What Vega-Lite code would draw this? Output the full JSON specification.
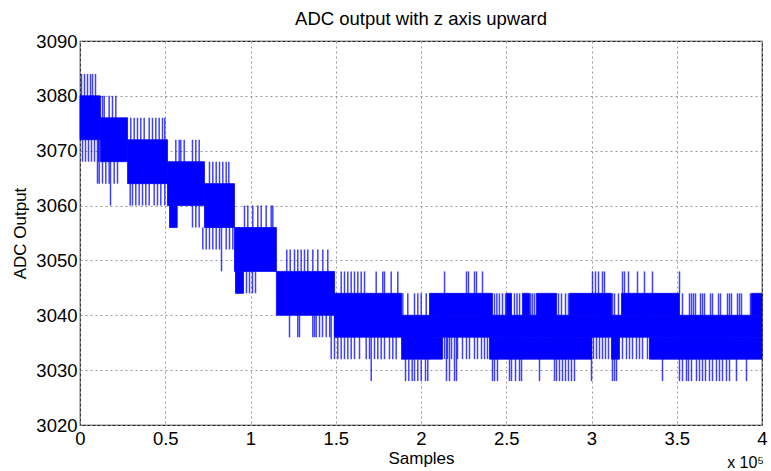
{
  "$schema": "https://vega.github.io/schema/vega-lite/v6.json",
  "width": 682,
  "height": 384,
  "autosize": {"type": "none"},
  "padding": {"left": 80, "top": 41, "right": 9, "bottom": 46},
  "background": "#ffffff",
  "title": {"text": "ADC output with z axis upward", "fontSize": 18.5, "fontWeight": "normal", "font": "Liberation Sans", "color": "#000", "anchor": "middle", "offset": 4},
  "config": {
    "view": {"stroke": "#222", "strokeWidth": 1.2},
    "axis": {"labelFont": "Liberation Sans", "titleFont": "Liberation Sans", "labelColor": "#000", "titleColor": "#000", "labelFontSize": 18.5, "titleFontSize": 17, "titleFontWeight": "normal", "grid": true, "gridColor": "#999", "gridDash": [2, 3], "gridOpacity": 1, "domain": false, "ticks": false, "labelFlush": false}
  },
  "datasets": {
    "blocks": [
      {"x": 0, "x2": 12000, "lo": 3072, "hi": 3080},
      {"x": 12000, "x2": 27900, "lo": 3068, "hi": 3076},
      {"x": 27900, "x2": 51300, "lo": 3064, "hi": 3072},
      {"x": 51300, "x2": 73000, "lo": 3060, "hi": 3068},
      {"x": 52500, "x2": 57000, "lo": 3056, "hi": 3060},
      {"x": 73000, "x2": 90600, "lo": 3056, "hi": 3064},
      {"x": 90600, "x2": 115200, "lo": 3048, "hi": 3056},
      {"x": 91200, "x2": 95900, "lo": 3044, "hi": 3048},
      {"x": 115200, "x2": 149300, "lo": 3040, "hi": 3048},
      {"x": 149300, "x2": 188600, "lo": 3036, "hi": 3044},
      {"x": 188600, "x2": 205000, "lo": 3032, "hi": 3040},
      {"x": 205000, "x2": 400000, "lo": 3036, "hi": 3040},
      {"x": 205000, "x2": 241900, "lo": 3040, "hi": 3044},
      {"x": 250100, "x2": 253100, "lo": 3040, "hi": 3044},
      {"x": 259500, "x2": 263600, "lo": 3040, "hi": 3044},
      {"x": 267700, "x2": 279500, "lo": 3040, "hi": 3044},
      {"x": 287100, "x2": 311700, "lo": 3040, "hi": 3044},
      {"x": 317600, "x2": 351600, "lo": 3040, "hi": 3044},
      {"x": 393800, "x2": 400000, "lo": 3040, "hi": 3044},
      {"x": 205000, "x2": 212600, "lo": 3032, "hi": 3036},
      {"x": 240200, "x2": 300000, "lo": 3032, "hi": 3036},
      {"x": 311700, "x2": 316400, "lo": 3032, "hi": 3036},
      {"x": 334000, "x2": 400000, "lo": 3032, "hi": 3036}
    ],
    "spikes": [
      {"x": 880, "lo": 3076, "hi": 3084}, {"x": 2640, "lo": 3076, "hi": 3084}, {"x": 4400, "lo": 3076, "hi": 3084}, {"x": 6160, "lo": 3076, "hi": 3084}, {"x": 7330, "lo": 3076, "hi": 3084}, {"x": 9090, "lo": 3076, "hi": 3084},
      {"x": 1470, "lo": 3068, "hi": 3072}, {"x": 3230, "lo": 3068, "hi": 3072}, {"x": 4990, "lo": 3068, "hi": 3072}, {"x": 6740, "lo": 3068, "hi": 3072}, {"x": 8500, "lo": 3068, "hi": 3072}, {"x": 10850, "lo": 3068, "hi": 3072},
      {"x": 13200, "lo": 3076, "hi": 3080}, {"x": 14200, "lo": 3076, "hi": 3080}, {"x": 17100, "lo": 3076, "hi": 3080}, {"x": 19060, "lo": 3076, "hi": 3080}, {"x": 21000, "lo": 3076, "hi": 3080},
      {"x": 10260, "lo": 3064, "hi": 3072}, {"x": 11260, "lo": 3064, "hi": 3072}, {"x": 13200, "lo": 3064, "hi": 3068}, {"x": 15130, "lo": 3064, "hi": 3068}, {"x": 17100, "lo": 3064, "hi": 3068}, {"x": 20060, "lo": 3064, "hi": 3068}, {"x": 21990, "lo": 3064, "hi": 3068},
      {"x": 17890, "lo": 3060, "hi": 3068},
      {"x": 29794, "lo": 3072, "hi": 3076}, {"x": 31788, "lo": 3072, "hi": 3076}, {"x": 33724, "lo": 3072, "hi": 3076}, {"x": 35659, "lo": 3072, "hi": 3076}, {"x": 37653, "lo": 3072, "hi": 3076}, {"x": 40586, "lo": 3072, "hi": 3076}, {"x": 42521, "lo": 3072, "hi": 3076}, {"x": 44457, "lo": 3072, "hi": 3076}, {"x": 46451, "lo": 3072, "hi": 3076}, {"x": 48386, "lo": 3072, "hi": 3076}, {"x": 49735, "lo": 3072, "hi": 3076},
      {"x": 29442, "lo": 3060, "hi": 3064}, {"x": 30791, "lo": 3060, "hi": 3064}, {"x": 32727, "lo": 3060, "hi": 3064}, {"x": 34720, "lo": 3060, "hi": 3064}, {"x": 36656, "lo": 3060, "hi": 3064}, {"x": 38592, "lo": 3060, "hi": 3064}, {"x": 40586, "lo": 3060, "hi": 3064}, {"x": 43518, "lo": 3060, "hi": 3064}, {"x": 45454, "lo": 3060, "hi": 3064}, {"x": 47389, "lo": 3060, "hi": 3064}, {"x": 49735, "lo": 3060, "hi": 3064},
      {"x": 56187, "lo": 3068, "hi": 3072}, {"x": 58181, "lo": 3068, "hi": 3072}, {"x": 59120, "lo": 3068, "hi": 3072}, {"x": 61113, "lo": 3068, "hi": 3072}, {"x": 65981, "lo": 3068, "hi": 3072}, {"x": 67917, "lo": 3068, "hi": 3072}, {"x": 69910, "lo": 3068, "hi": 3072},
      {"x": 65981, "lo": 3056, "hi": 3060}, {"x": 67917, "lo": 3056, "hi": 3060}, {"x": 69910, "lo": 3056, "hi": 3060},
      {"x": 75952, "lo": 3064, "hi": 3068}, {"x": 77888, "lo": 3064, "hi": 3068}, {"x": 79881, "lo": 3064, "hi": 3068}, {"x": 81817, "lo": 3064, "hi": 3068}, {"x": 83752, "lo": 3064, "hi": 3068}, {"x": 85746, "lo": 3064, "hi": 3068}, {"x": 87271, "lo": 3064, "hi": 3068},
      {"x": 72024, "lo": 3052, "hi": 3056}, {"x": 74017, "lo": 3052, "hi": 3056}, {"x": 75952, "lo": 3052, "hi": 3056}, {"x": 77888, "lo": 3052, "hi": 3056}, {"x": 79881, "lo": 3052, "hi": 3056}, {"x": 81817, "lo": 3052, "hi": 3056}, {"x": 85746, "lo": 3052, "hi": 3056}, {"x": 87681, "lo": 3052, "hi": 3056}, {"x": 89617, "lo": 3052, "hi": 3056}, {"x": 82990, "lo": 3048, "hi": 3056},
      {"x": 96479, "lo": 3056, "hi": 3060}, {"x": 98414, "lo": 3056, "hi": 3060}, {"x": 101347, "lo": 3056, "hi": 3060}, {"x": 104279, "lo": 3056, "hi": 3060}, {"x": 106273, "lo": 3056, "hi": 3060}, {"x": 109206, "lo": 3056, "hi": 3060}, {"x": 112138, "lo": 3056, "hi": 3060}, {"x": 113077, "lo": 3056, "hi": 3060},
      {"x": 97651, "lo": 3044, "hi": 3048}, {"x": 99411, "lo": 3044, "hi": 3048}, {"x": 101171, "lo": 3044, "hi": 3048}, {"x": 102930, "lo": 3044, "hi": 3048},
      {"x": 121286, "lo": 3048, "hi": 3052}, {"x": 123280, "lo": 3048, "hi": 3052}, {"x": 125804, "lo": 3048, "hi": 3052}, {"x": 127739, "lo": 3048, "hi": 3052}, {"x": 129733, "lo": 3048, "hi": 3052}, {"x": 131669, "lo": 3048, "hi": 3052}, {"x": 133604, "lo": 3048, "hi": 3052}, {"x": 136537, "lo": 3048, "hi": 3052}, {"x": 139470, "lo": 3048, "hi": 3052}, {"x": 142402, "lo": 3048, "hi": 3052}, {"x": 145335, "lo": 3048, "hi": 3052},
      {"x": 122872, "lo": 3036, "hi": 3040}, {"x": 127739, "lo": 3036, "hi": 3040}, {"x": 128735, "lo": 3036, "hi": 3040}, {"x": 136537, "lo": 3036, "hi": 3040}, {"x": 137534, "lo": 3036, "hi": 3040}, {"x": 138531, "lo": 3036, "hi": 3040}, {"x": 140467, "lo": 3036, "hi": 3040}, {"x": 142227, "lo": 3036, "hi": 3040}, {"x": 144402, "lo": 3036, "hi": 3040}, {"x": 146457, "lo": 3036, "hi": 3040},
      {"x": 153194, "lo": 3044, "hi": 3048}, {"x": 155129, "lo": 3044, "hi": 3048}, {"x": 157065, "lo": 3044, "hi": 3048}, {"x": 159058, "lo": 3044, "hi": 3048}, {"x": 160994, "lo": 3044, "hi": 3048}, {"x": 162929, "lo": 3044, "hi": 3048}, {"x": 164923, "lo": 3044, "hi": 3048}, {"x": 166859, "lo": 3044, "hi": 3048}, {"x": 173721, "lo": 3044, "hi": 3048}, {"x": 177592, "lo": 3044, "hi": 3048}, {"x": 178589, "lo": 3044, "hi": 3048}, {"x": 182518, "lo": 3044, "hi": 3048}, {"x": 186389, "lo": 3044, "hi": 3048},
      {"x": 147328, "lo": 3032, "hi": 3040}, {"x": 149264, "lo": 3032, "hi": 3040}, {"x": 151200, "lo": 3032, "hi": 3036}, {"x": 153194, "lo": 3032, "hi": 3036}, {"x": 155129, "lo": 3032, "hi": 3036}, {"x": 157065, "lo": 3032, "hi": 3036}, {"x": 159058, "lo": 3032, "hi": 3036}, {"x": 160994, "lo": 3032, "hi": 3036}, {"x": 163927, "lo": 3032, "hi": 3036}, {"x": 167856, "lo": 3032, "hi": 3036}, {"x": 169792, "lo": 3032, "hi": 3036}, {"x": 172724, "lo": 3032, "hi": 3036}, {"x": 174660, "lo": 3032, "hi": 3036}, {"x": 176653, "lo": 3032, "hi": 3036}, {"x": 178589, "lo": 3032, "hi": 3036}, {"x": 181522, "lo": 3032, "hi": 3036}, {"x": 183457, "lo": 3032, "hi": 3036}, {"x": 185451, "lo": 3032, "hi": 3036}, {"x": 170800, "lo": 3028, "hi": 3036},
      {"x": 189322, "lo": 3040, "hi": 3044}, {"x": 192255, "lo": 3040, "hi": 3044}, {"x": 196184, "lo": 3040, "hi": 3044}, {"x": 198120, "lo": 3040, "hi": 3044}, {"x": 200113, "lo": 3040, "hi": 3044}, {"x": 203046, "lo": 3040, "hi": 3044},
      {"x": 190906, "lo": 3028, "hi": 3032}, {"x": 192842, "lo": 3028, "hi": 3032}, {"x": 194835, "lo": 3028, "hi": 3032}, {"x": 196184, "lo": 3028, "hi": 3032}, {"x": 198120, "lo": 3028, "hi": 3032}, {"x": 200113, "lo": 3028, "hi": 3032}, {"x": 202636, "lo": 3028, "hi": 3032}, {"x": 203985, "lo": 3028, "hi": 3032},
      {"x": 243100, "lo": 3040, "hi": 3044}, {"x": 244500, "lo": 3040, "hi": 3044}, {"x": 246000, "lo": 3040, "hi": 3044}, {"x": 247800, "lo": 3040, "hi": 3044}, {"x": 249600, "lo": 3040, "hi": 3044}, {"x": 254800, "lo": 3040, "hi": 3044}, {"x": 256300, "lo": 3040, "hi": 3044}, {"x": 257800, "lo": 3040, "hi": 3044}, {"x": 264300, "lo": 3040, "hi": 3044}, {"x": 265400, "lo": 3040, "hi": 3044}, {"x": 266600, "lo": 3040, "hi": 3044}, {"x": 280640, "lo": 3040, "hi": 3044}, {"x": 282400, "lo": 3040, "hi": 3044}, {"x": 284746, "lo": 3040, "hi": 3044}, {"x": 286502, "lo": 3040, "hi": 3044}, {"x": 312311, "lo": 3040, "hi": 3044}, {"x": 313484, "lo": 3040, "hi": 3044}, {"x": 315830, "lo": 3040, "hi": 3044},
      {"x": 353366, "lo": 3040, "hi": 3044}, {"x": 357472, "lo": 3040, "hi": 3044}, {"x": 358645, "lo": 3040, "hi": 3044}, {"x": 359818, "lo": 3040, "hi": 3044}, {"x": 360991, "lo": 3040, "hi": 3044}, {"x": 363923, "lo": 3040, "hi": 3044}, {"x": 365096, "lo": 3040, "hi": 3044}, {"x": 366269, "lo": 3040, "hi": 3044}, {"x": 369788, "lo": 3040, "hi": 3044}, {"x": 370961, "lo": 3040, "hi": 3044}, {"x": 374480, "lo": 3040, "hi": 3044}, {"x": 375653, "lo": 3040, "hi": 3044}, {"x": 379759, "lo": 3040, "hi": 3044}, {"x": 380932, "lo": 3040, "hi": 3044}, {"x": 382105, "lo": 3040, "hi": 3044}, {"x": 385624, "lo": 3040, "hi": 3044}, {"x": 386797, "lo": 3040, "hi": 3044}, {"x": 387970, "lo": 3040, "hi": 3044}, {"x": 393248, "lo": 3040, "hi": 3044},
      {"x": 213779, "lo": 3032, "hi": 3036}, {"x": 215539, "lo": 3032, "hi": 3036}, {"x": 217885, "lo": 3032, "hi": 3036}, {"x": 221404, "lo": 3032, "hi": 3036}, {"x": 224336, "lo": 3032, "hi": 3036}, {"x": 226682, "lo": 3032, "hi": 3036}, {"x": 228442, "lo": 3032, "hi": 3036}, {"x": 231374, "lo": 3032, "hi": 3036}, {"x": 233134, "lo": 3032, "hi": 3036}, {"x": 235480, "lo": 3032, "hi": 3036}, {"x": 237239, "lo": 3032, "hi": 3036}, {"x": 238999, "lo": 3032, "hi": 3036},
      {"x": 301168, "lo": 3032, "hi": 3036}, {"x": 302927, "lo": 3032, "hi": 3036}, {"x": 304687, "lo": 3032, "hi": 3036}, {"x": 306446, "lo": 3032, "hi": 3036}, {"x": 308206, "lo": 3032, "hi": 3036}, {"x": 309965, "lo": 3032, "hi": 3036},
      {"x": 318176, "lo": 3032, "hi": 3036}, {"x": 320522, "lo": 3032, "hi": 3036}, {"x": 322282, "lo": 3032, "hi": 3036}, {"x": 324041, "lo": 3032, "hi": 3036}, {"x": 326387, "lo": 3032, "hi": 3036}, {"x": 328147, "lo": 3032, "hi": 3036}, {"x": 329906, "lo": 3032, "hi": 3036}, {"x": 332839, "lo": 3032, "hi": 3036},
      {"x": 213800, "lo": 3044, "hi": 3048}, {"x": 226682, "lo": 3044, "hi": 3048}, {"x": 227855, "lo": 3044, "hi": 3048}, {"x": 231374, "lo": 3044, "hi": 3048}, {"x": 232547, "lo": 3044, "hi": 3048}, {"x": 236063, "lo": 3044, "hi": 3048}, {"x": 300581, "lo": 3044, "hi": 3048}, {"x": 302341, "lo": 3044, "hi": 3048}, {"x": 304100, "lo": 3044, "hi": 3048}, {"x": 306446, "lo": 3044, "hi": 3048}, {"x": 307619, "lo": 3044, "hi": 3048}, {"x": 318176, "lo": 3044, "hi": 3048}, {"x": 319349, "lo": 3044, "hi": 3048}, {"x": 321695, "lo": 3044, "hi": 3048}, {"x": 326974, "lo": 3044, "hi": 3048}, {"x": 331079, "lo": 3044, "hi": 3048}, {"x": 335771, "lo": 3044, "hi": 3048}, {"x": 351607, "lo": 3044, "hi": 3048},
      {"x": 214952, "lo": 3028, "hi": 3036}, {"x": 216712, "lo": 3028, "hi": 3036}, {"x": 219644, "lo": 3028, "hi": 3036}, {"x": 220817, "lo": 3028, "hi": 3036}, {"x": 241931, "lo": 3028, "hi": 3036}, {"x": 243104, "lo": 3028, "hi": 3036}, {"x": 244864, "lo": 3028, "hi": 3036}, {"x": 251902, "lo": 3028, "hi": 3036}, {"x": 253075, "lo": 3028, "hi": 3036}, {"x": 255421, "lo": 3028, "hi": 3036}, {"x": 257767, "lo": 3028, "hi": 3036}, {"x": 258940, "lo": 3028, "hi": 3036}, {"x": 269497, "lo": 3028, "hi": 3036}, {"x": 278294, "lo": 3028, "hi": 3036}, {"x": 279467, "lo": 3028, "hi": 3036}, {"x": 281227, "lo": 3028, "hi": 3036}, {"x": 282986, "lo": 3028, "hi": 3036}, {"x": 284746, "lo": 3028, "hi": 3036}, {"x": 286502, "lo": 3028, "hi": 3036}, {"x": 288262, "lo": 3028, "hi": 3036}, {"x": 290021, "lo": 3028, "hi": 3036}, {"x": 299995, "lo": 3028, "hi": 3036}, {"x": 312311, "lo": 3028, "hi": 3036}, {"x": 313484, "lo": 3028, "hi": 3036}, {"x": 314657, "lo": 3028, "hi": 3036}, {"x": 341636, "lo": 3028, "hi": 3036}, {"x": 351607, "lo": 3028, "hi": 3036}, {"x": 353366, "lo": 3028, "hi": 3036}, {"x": 355712, "lo": 3028, "hi": 3036}, {"x": 356885, "lo": 3028, "hi": 3036}, {"x": 358645, "lo": 3028, "hi": 3036}, {"x": 361577, "lo": 3028, "hi": 3036}, {"x": 363337, "lo": 3028, "hi": 3036}, {"x": 365096, "lo": 3028, "hi": 3036}, {"x": 366856, "lo": 3028, "hi": 3036}, {"x": 369194, "lo": 3028, "hi": 3036}, {"x": 370961, "lo": 3028, "hi": 3036}, {"x": 373307, "lo": 3028, "hi": 3036}, {"x": 375067, "lo": 3028, "hi": 3036}, {"x": 376826, "lo": 3028, "hi": 3036}, {"x": 379172, "lo": 3028, "hi": 3036}, {"x": 380932, "lo": 3028, "hi": 3036}, {"x": 385032, "lo": 3028, "hi": 3036}, {"x": 390902, "lo": 3028, "hi": 3036}
    ],
    "exponent": [{"x": 400000, "y": 3020, "t": "x 10⁵"}]
  },
  "layer": [
    {
      "data": {"name": "blocks"},
      "mark": {"type": "rect", "color": "#0000ff", "stroke": "#0000ff", "strokeWidth": 0.8},
      "encoding": {
        "x": {"field": "x", "type": "quantitative", "scale": {"domain": [0, 400000], "nice": false, "zero": false},
              "axis": {"title": "Samples", "values": [0, 50000, 100000, 150000, 200000, 250000, 300000, 350000, 400000], "labelExpr": "'' + (datum.value / 100000)", "labelPadding": 4, "titlePadding": 3}},
        "x2": {"field": "x2"},
        "y": {"field": "lo", "type": "quantitative", "scale": {"domain": [3020, 3090], "nice": false, "zero": false},
              "axis": {"title": "ADC Output", "values": [3020, 3030, 3040, 3050, 3060, 3070, 3080, 3090], "format": "d", "labelPadding": 3, "titlePadding": 6}},
        "y2": {"field": "hi"}
      }
    },
    {
      "data": {"name": "spikes"},
      "mark": {"type": "rule", "color": "#0000ff", "strokeWidth": 1.5, "opacity": 0.75},
      "encoding": {
        "x": {"field": "x", "type": "quantitative"},
        "y": {"field": "lo", "type": "quantitative"},
        "y2": {"field": "hi"}
      }
    },
    {
      "data": {"name": "exponent"},
      "mark": {"type": "text", "align": "right", "baseline": "middle", "dx": 2, "dy": 38, "fontSize": 16, "font": "Liberation Sans", "color": "#000", "clip": false},
      "encoding": {
        "x": {"field": "x", "type": "quantitative"},
        "y": {"field": "y", "type": "quantitative"},
        "text": {"field": "t"}
      }
    }
  ]
}
